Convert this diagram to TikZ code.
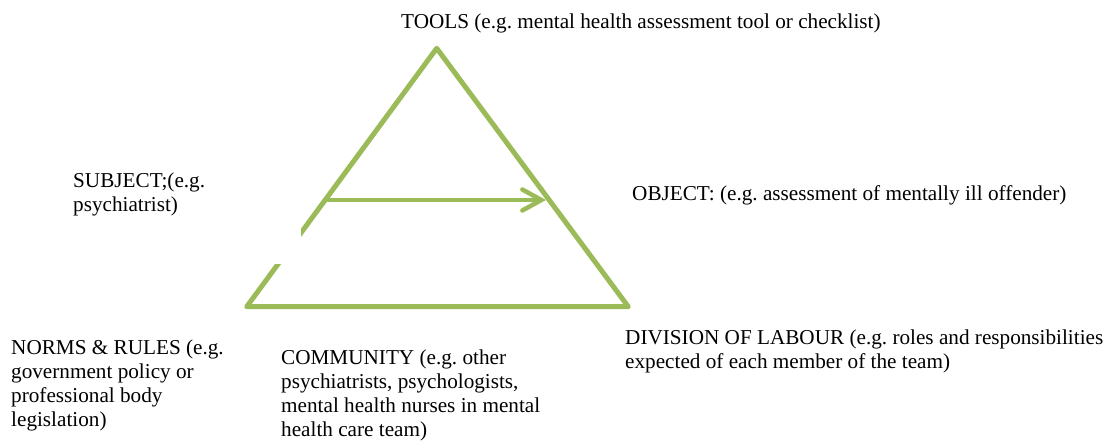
\documentclass[tikz,border=0pt]{standalone}
\usepackage{fontspec}
\setmainfont{Liberation Serif}
\usetikzlibrary{arrows.meta}
\definecolor{olive}{RGB}{155,187,89}
\frenchspacing
\begin{document}
\begin{tikzpicture}[x=1pt,y=-1pt,
  lbl/.style={anchor=base west,inner sep=0pt,align=left,font=\fontsize{21.2}{24}\selectfont\frenchspacing,text=black},
  tri/.style={draw=olive,line width=5pt,line join=round,line cap=round},
  flow/.style={draw=olive,line width=4.5pt,line cap=round,-{Straight Barb[length=19pt,width=21pt,line cap=round]}}]
\useasboundingbox (0,0) rectangle (1109,444);
\coordinate (apex) at (436.7,48.3);
\coordinate (bl) at (246.7,306.7);
\coordinate (br) at (628.3,306.7);
\draw[tri] (apex) -- (br) -- (bl) -- cycle;
\fill[white] (230,160) rectangle (301,264);
\coordinate (subj) at (328,200);
\coordinate (obj) at (546,200);
\draw[flow] (subj) -- (obj);
\node[lbl] (tools) at (401,29) {TOOLS (e.g. mental health assessment tool or checklist)};
\node[lbl] (subject) at (73,211) {SUBJECT;(e.g.\\psychiatrist)};
\node[lbl] (object) at (632,200) {OBJECT: (e.g. assessment of mentally ill offender)};
\node[lbl] (norms) at (11,426) {NORMS \& RULES (e.g.\\government policy or\\professional body\\legislation)};
\node[lbl] (community) at (281,436) {COMMUNITY (e.g. other\\psychiatrists, psychologists,\\mental health nurses in mental\\health care team)};
\node[lbl] (division) at (625,368) {DIVISION OF LABOUR (e.g. roles and responsibilities\\expected of each member of the team)};
\end{tikzpicture}
\end{document}
